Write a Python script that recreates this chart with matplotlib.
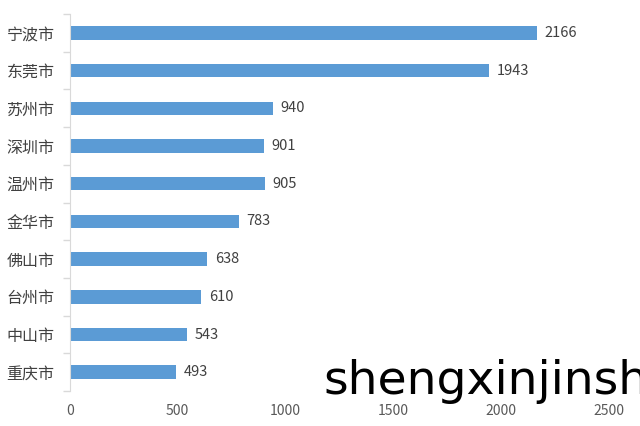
import matplotlib
matplotlib.use("Agg")
import matplotlib.pyplot as plt

plt.rcParams['font.family'] = ['Noto Sans CJK SC', 'DejaVu Sans']

cities = ["宁波市", "东莞市", "苏州市", "深圳市", "温州市", "金华市", "佛山市", "台州市", "中山市", "重庆市"]
values = [2166, 1943, 940, 901, 905, 783, 638, 610, 543, 493]
xticks = [0, 500, 1000, 1500, 2000, 2500]

fig = plt.figure(figsize=(6.4, 4.26), dpi=100)
ax = fig.add_axes([0.109, 0.082, 0.843, 0.885])

n = len(cities)
pos = list(range(n))
ax.barh(pos, values, height=0.36, color="#5B9BD5")
for p, v in zip(pos, values):
    ax.text(v + 35, p, str(v), va="center", ha="left", fontsize=10.5, color="#404040")

ax.set_ylim(n - 0.5, -0.5)
ax.set_xlim(0, 2500)
ax.set_xticks(xticks)
ax.set_xticklabels([str(t) for t in xticks], fontsize=10, color="#595959")
ax.tick_params(axis="x", length=0, pad=9)

ax.set_yticks(pos)
ax.set_yticklabels(cities, fontsize=11.5, color="#404040")
ax.tick_params(axis="y", length=0, pad=11)
ax.set_yticks([i - 0.5 for i in range(n + 1)], minor=True)
ax.tick_params(axis="y", which="minor", length=5, color="#D9D9D9", width=1)

for s in ["top", "right", "bottom"]:
    ax.spines[s].set_visible(False)
ax.spines["left"].set_color("#D9D9D9")

fig.text(323 / 640, 1 - 394 / 426, "shengxinjinsh", fontsize=34, color="black",
         ha="left", va="baseline", family=["DejaVu Sans"])

fig.savefig("out.png", dpi=100)
